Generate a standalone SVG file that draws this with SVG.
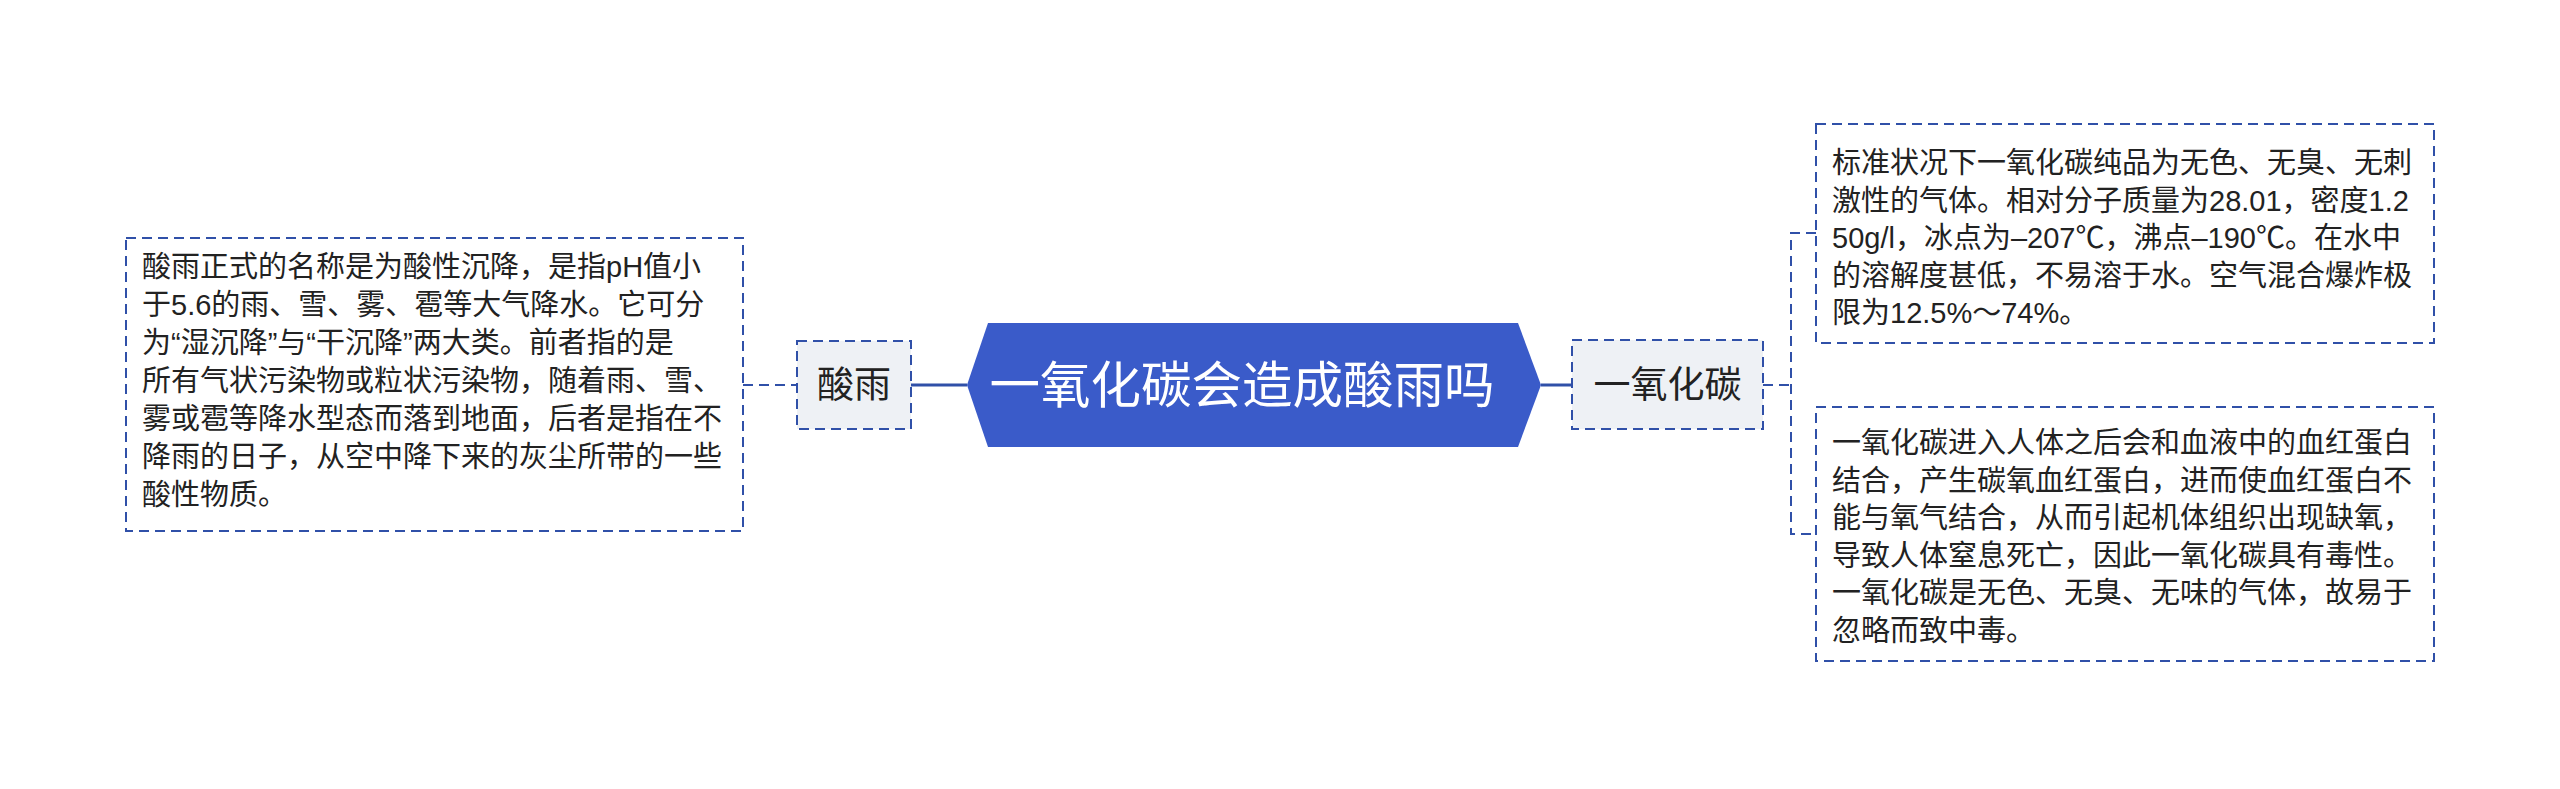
<svg xmlns="http://www.w3.org/2000/svg" width="2560" height="789" viewBox="0 0 2560 789">
<style>
text{font-family:"Noto Sans CJK SC","Noto Sans",sans-serif;}
.d{fill:#ffffff;stroke:#3050a8;stroke-width:2;stroke-dasharray:10 6;}
.s{fill:#eef1f5;stroke:#3050a8;stroke-width:2;stroke-dasharray:10 6;}
.t{font-size:29px;fill:#222;font-family:"Liberation Sans","Noto Sans CJK SC",sans-serif;}
.l{font-size:37px;fill:#222;}
.cl{fill:none;stroke:#3050a8;stroke-width:3;}
.cd{fill:none;stroke:#3050a8;stroke-width:2;stroke-dasharray:10 6;}
</style>
<rect width="2560" height="789" fill="#ffffff"/>
<g id="connectors">
<line class="cl" x1="911" y1="385" x2="967" y2="385"/>
<line class="cd" x1="743" y1="385" x2="797" y2="385"/>
<line class="cl" x1="1541" y1="385" x2="1572" y2="385"/>
<path class="cd" d="M1763 385 H1791 M1816 233 H1791 V534 H1816"/>
</g>
<g id="central">
<polygon points="967,385 988,323 1518,323 1541,385 1518,447 988,447" fill="#3a5bc9"/>
<text x="1242" y="403" text-anchor="middle" font-size="50.5" fill="#ffffff">一氧化碳会造成酸雨吗</text>
</g>
<g id="acid-rain">
<rect class="s" x="797" y="341" width="114" height="88"/>
<text class="l" x="854" y="398" text-anchor="middle">酸雨</text>
</g>
<g id="acid-rain-detail">
<rect class="d" x="126" y="238" width="617" height="293"/>
<text class="t">
<tspan x="142" y="277">酸雨正式的名称是为酸性沉降，是指pH值小</tspan>
<tspan x="142" y="315">于5.6的雨、雪、雾、雹等大气降水。它可分</tspan>
<tspan x="142" y="353">为“湿沉降”与“干沉降”两大类。前者指的是</tspan>
<tspan x="142" y="391">所有气状污染物或粒状污染物，随着雨、雪、</tspan>
<tspan x="142" y="429">雾或雹等降水型态而落到地面，后者是指在不</tspan>
<tspan x="142" y="467">降雨的日子，从空中降下来的灰尘所带的一些</tspan>
<tspan x="142" y="505">酸性物质。</tspan>
</text>
</g>
<g id="co">
<rect class="s" x="1572" y="340" width="191" height="89"/>
<text class="l" x="1667.5" y="398" text-anchor="middle">一氧化碳</text>
</g>
<g id="co-detail-1">
<rect class="d" x="1816" y="124" width="618" height="219"/>
<text class="t">
<tspan x="1832" y="173">标准状况下一氧化碳纯品为无色、无臭、无刺</tspan>
<tspan x="1832" y="210.5">激性的气体。相对分子质量为28.01，密度1.2</tspan>
<tspan x="1832" y="248">50g/l，冰点为–207℃，沸点–190℃。在水中</tspan>
<tspan x="1832" y="285.5">的溶解度甚低，不易溶于水。空气混合爆炸极</tspan>
<tspan x="1832" y="323">限为12.5%～74%。</tspan>
</text>
</g>
<g id="co-detail-2">
<rect class="d" x="1816" y="407" width="618" height="254"/>
<text class="t">
<tspan x="1832" y="453">一氧化碳进入人体之后会和血液中的血红蛋白</tspan>
<tspan x="1832" y="490.5">结合，产生碳氧血红蛋白，进而使血红蛋白不</tspan>
<tspan x="1832" y="528">能与氧气结合，从而引起机体组织出现缺氧，</tspan>
<tspan x="1832" y="565.5">导致人体窒息死亡，因此一氧化碳具有毒性。</tspan>
<tspan x="1832" y="603">一氧化碳是无色、无臭、无味的气体，故易于</tspan>
<tspan x="1832" y="640.5">忽略而致中毒。</tspan>
</text>
</g>
</svg>
